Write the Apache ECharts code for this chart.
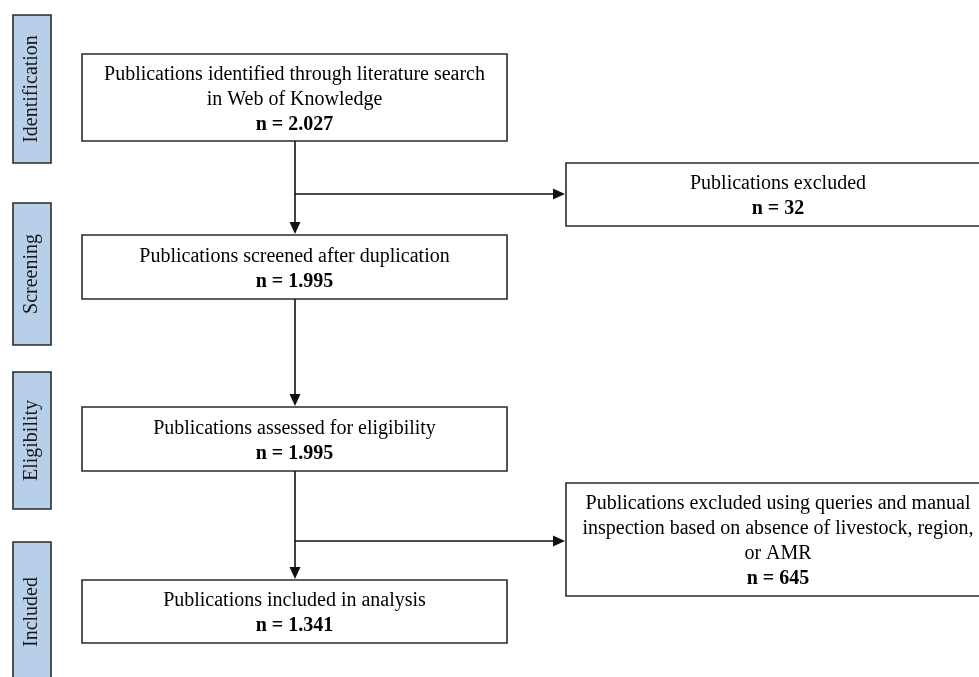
<!DOCTYPE html>
<html>
<head>
<meta charset="utf-8">
<script src="https://cdn.jsdelivr.net/npm/echarts@6/dist/echarts.min.js"></script>
<style>
html,body{margin:0;padding:0;background:#fff;}
#chart{width:979px;height:677px;}
</style>
</head>
<body>
<div id="chart"></div>
<script>
// ---- Data ----
const stages = ['Identification', 'Screening', 'Eligibility', 'Included'];
const mainLabels = [
  'Publications identified through literature search\nin Web of Knowledge',
  'Publications screened after duplication',
  'Publications assessed for eligibility',
  'Publications included in analysis'
];
const mainCounts = ['2.027', '1.995', '1.995', '1.341'];
const excludedLabels = [
  'Publications excluded',
  'Publications excluded using queries and manual\ninspection based on absence of livestock, region,\nor AMR'
];
const excludedCounts = ['32', '645'];
// which main-flow step each exclusion branches from (index of the step above)
const excludedFrom = [0, 2];

// ---- Layout (diagram units, same as pixels of the canvas) ----
const W = 979, H = 677;
const stageBox = { x0: 13, x1: 51, y: [[15, 163], [203, 345], [372, 509], [542, 682]] };
const mainBox = { x0: 82, x1: 507, y: [[54, 141], [235, 299], [407, 471], [580, 643]] };
const exclBox = { x0: 566, x1: 990, y: [[163, 226], [483, 596]] };
const branchY = [194, 541];
const spineX = 295;
const textDy = 2;

const FONT = '"Liberation Serif", "DejaVu Serif", serif';
const LINE = '#2a2a2a';
const lineH = 25;
const FS = 20;

function richText(label, count) {
  return label.split('\n').map(s => '{t|' + s + '}').join('\n') + '\n{b|n = ' + count + '}';
}
const rich = {
  t: { fontFamily: FONT, fontSize: FS, lineHeight: lineH, color: '#161616' },
  b: { fontFamily: FONT, fontSize: FS, fontWeight: 'bold', lineHeight: lineH, color: '#161616' }
};

function boxGroup(api, x0, x1, y0, y1, text) {
  const p0 = api.coord([x0, y0]);
  const p1 = api.coord([x1, y1]);
  const c = api.coord([(x0 + x1) / 2, (y0 + y1) / 2 + textDy]);
  return {
    type: 'group',
    children: [
      { type: 'rect', shape: { x: p0[0], y: p0[1], width: p1[0] - p0[0], height: p1[1] - p0[1] },
        style: { fill: '#fff', stroke: LINE, lineWidth: 1.6 } },
      { type: 'text', x: c[0], y: c[1],
        style: { text: text, rich: rich, align: 'center', verticalAlign: 'middle' } }
    ]
  };
}

function arrowHead(api, tip, dir) {
  const p = api.coord(tip);
  const L = 12, hw = 5.5;
  let pts;
  if (dir === 'down') pts = [[p[0], p[1]], [p[0] - hw, p[1] - L], [p[0] + hw, p[1] - L]];
  else pts = [[p[0], p[1]], [p[0] - L, p[1] - hw], [p[0] - L, p[1] + hw]];
  return { type: 'polygon', shape: { points: pts }, style: { fill: '#111' } };
}

const option = {
  animation: false,
  grid: { left: 0, right: 0, top: 0, bottom: 0 },
  xAxis: { type: 'value', min: 0, max: W, show: false },
  yAxis: { type: 'value', min: 0, max: H, inverse: true, show: false },
  series: [
    {
      type: 'custom', name: 'stages', silent: true, clip: false,
      data: stages.map((s, i) => [i, 0]),
      renderItem: function (params, api) {
        const i = api.value(0);
        const yy = stageBox.y[i];
        const p0 = api.coord([stageBox.x0, yy[0]]);
        const p1 = api.coord([stageBox.x1, yy[1]]);
        return {
          type: 'group',
          children: [
            { type: 'rect', shape: { x: p0[0], y: p0[1], width: p1[0] - p0[0], height: p1[1] - p0[1] },
              style: { fill: '#b8cfea', stroke: LINE, lineWidth: 1.6 } },
            { type: 'text', x: (p0[0] + p1[0]) / 2, y: (p0[1] + p1[1]) / 2, rotation: Math.PI / 2,
              style: { text: stages[i], fontFamily: FONT, fontSize: FS, fill: '#161616', align: 'center', verticalAlign: 'middle' } }
          ]
        };
      }
    },
    {
      type: 'custom', name: 'main', silent: true, clip: false,
      data: mainLabels.map((s, i) => [i, 0]),
      renderItem: function (params, api) {
        const i = api.value(0);
        return boxGroup(api, mainBox.x0, mainBox.x1, mainBox.y[i][0], mainBox.y[i][1], richText(mainLabels[i], mainCounts[i]));
      }
    },
    {
      type: 'custom', name: 'excluded', silent: true, clip: false,
      data: excludedLabels.map((s, i) => [i, 0]),
      renderItem: function (params, api) {
        const i = api.value(0);
        return boxGroup(api, exclBox.x0, exclBox.x1, exclBox.y[i][0], exclBox.y[i][1], richText(excludedLabels[i], excludedCounts[i]));
      }
    },
    {
      type: 'custom', name: 'flow', silent: true, clip: false,
      data: mainLabels.slice(1).map((s, i) => [i, 0]),
      renderItem: function (params, api) {
        const i = api.value(0);
        const a = api.coord([spineX, mainBox.y[i][1]]);
        const b = api.coord([spineX, mainBox.y[i + 1][0]]);
        return {
          type: 'group',
          children: [
            { type: 'line', shape: { x1: a[0], y1: a[1], x2: b[0], y2: b[1] - 10 }, style: { stroke: '#111', lineWidth: 1.6 } },
            arrowHead(api, [spineX, mainBox.y[i + 1][0] - 1], 'down')
          ]
        };
      }
    },
    {
      type: 'custom', name: 'branches', silent: true, clip: false,
      data: excludedFrom.map((s, i) => [i, 0]),
      renderItem: function (params, api) {
        const i = api.value(0);
        const a = api.coord([spineX, branchY[i]]);
        const b = api.coord([exclBox.x0, branchY[i]]);
        return {
          type: 'group',
          children: [
            { type: 'line', shape: { x1: a[0], y1: a[1], x2: b[0] - 10, y2: b[1] }, style: { stroke: '#111', lineWidth: 1.6 } },
            arrowHead(api, [exclBox.x0 - 1, branchY[i]], 'right')
          ]
        };
      }
    }
  ]
};

const chart = echarts.init(document.getElementById('chart'), null, { renderer: 'canvas' });
chart.setOption(option);
</script>
</body>
</html>
